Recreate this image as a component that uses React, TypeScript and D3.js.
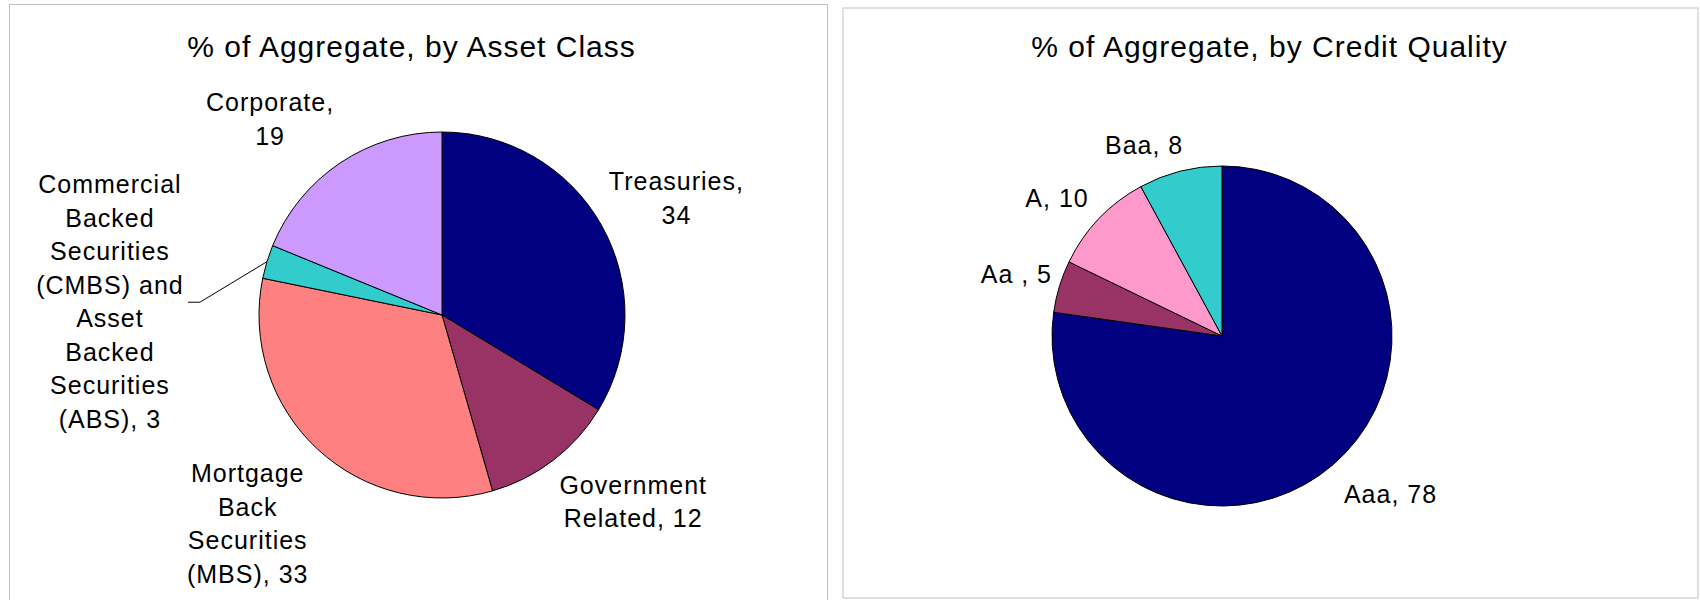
import React from "react";
import * as d3 from "d3";

// ---- Data ----
const assetClasses = [
  "Treasuries",
  "Government Related",
  "Mortgage Back Securities (MBS)",
  "Commercial Backed Securities (CMBS) and Asset Backed Securities (ABS)",
  "Corporate",
];
const assetValues = [34, 12, 33, 3, 19];
// label wrapping as in the picture ({v} = value)
const assetLabelLines = [
  ["Treasuries,", "{v}"],
  ["Government", "Related, {v}"],
  ["Mortgage", "Back", "Securities", "(MBS), {v}"],
  ["Commercial", "Backed", "Securities", "(CMBS) and", "Asset", "Backed", "Securities", "(ABS), {v}"],
  ["Corporate,", "{v}"],
];
const assetColors = ["#000080", "#993366", "#FF8080", "#33CCCC", "#CC99FF"];

const creditGrades = ["Aaa", "Aa ", "A", "Baa"];
const creditValues = [78, 5, 10, 8];
const creditLabelLines = [["Aaa, {v}"], ["Aa , {v}"], ["A, {v}"], ["Baa, {v}"]];
const creditColors = ["#000080", "#993366", "#FF99CC", "#33CCCC"];

const titles = ["% of Aggregate, by Asset Class", "% of Aggregate, by Credit Quality"];

// ---- Layout ----
const FONT = "'Liberation Sans', Arial, Helvetica, sans-serif";
const LINE_H = 33.5;

type PieSpec = {
  names: string[];
  values: number[];
  colors: string[];
  lines: string[][];
  cx: number;
  cy: number;
  r: number;
  labelOffsets: [number, number][];
  leader: boolean[];
};

function Pie({ spec }: { spec: PieSpec }) {
  const pie = d3
    .pie<number>()
    .sort(null)
    .startAngle(0)
    .endAngle(2 * Math.PI)
    .value((d) => d);
  const arcs = pie(spec.values);
  const arc = d3.arc<d3.PieArcDatum<number>>().innerRadius(0).outerRadius(spec.r);
  return (
    <g>
      <g transform={`translate(${spec.cx},${spec.cy})`}>
        {arcs.map((a, i) => (
          <path
            key={spec.names[i]}
            d={arc(a) || ""}
            fill={spec.colors[i]}
            stroke="#000"
            strokeWidth={1}
            strokeLinejoin="round"
          />
        ))}
      </g>
      {arcs.map((a, i) => {
        const mid = (a.startAngle + a.endAngle) / 2;
        const ox = spec.cx + spec.r * Math.sin(mid);
        const oy = spec.cy - spec.r * Math.cos(mid);
        const [dx, dy] = spec.labelOffsets[i];
        const lx = ox + dx;
        const ly = oy + dy;
        const lines = spec.lines[i].map((s) => s.replace("{v}", String(spec.values[i])));
        const n = lines.length;
        return (
          <g key={"lab" + i}>
            {spec.leader[i] && (
              <polyline
                points={`${ox},${oy} ${lx + 90},${ly + 0.5} ${lx + 78},${ly + 0.5}`}
                fill="none"
                stroke="#000"
                strokeWidth={1}
              />
            )}
            <text
              x={lx}
              textAnchor="middle"
              fontFamily={FONT}
              fontSize={25}
              letterSpacing={1}
              fill="#000"
            >
              {lines.map((s, j) => (
                <tspan key={j} x={lx} y={ly + 9 + (j - (n - 1) / 2) * LINE_H}>
                  {s}
                </tspan>
              ))}
            </text>
          </g>
        );
      })}
    </g>
  );
}

export default function App() {
  const left: PieSpec = {
    names: assetClasses,
    values: assetValues,
    colors: assetColors,
    lines: assetLabelLines,
    cx: 442,
    cy: 315,
    r: 183,
    labelOffsets: [
      [75, -27],
      [80, 41],
      [-70, 74],
      [-157, 40],
      [-70, -44],
    ],
    leader: [false, false, false, true, false],
  };
  const right: PieSpec = {
    names: creditGrades,
    values: creditValues,
    colors: creditColors,
    lines: creditLabelLines,
    cx: 1222,
    cy: 336,
    r: 170,
    labelOffsets: [
      [57, 30],
      [-43, -12],
      [-42, -21],
      [-36, -26],
    ],
    leader: [false, false, false, false],
  };
  return (
    <svg
      width={1700}
      height={600}
      style={{ position: "absolute", left: 0, top: 0, display: "block", background: "#fff" }}
    >
      <rect x={0} y={0} width={1700} height={600} fill="#fff" />
      <rect x={9.5} y={4.5} width={818} height={620} fill="#fff" stroke="#c0c0c0" strokeWidth={1} />
      <rect x={843} y={8} width={855} height={590} fill="#fff" stroke="#d6d6d6" strokeWidth={1.5} />
      <text
        x={411.5}
        y={57}
        textAnchor="middle"
        fontFamily={FONT}
        fontSize={30}
        letterSpacing={1}
        fill="#000"
      >
        {titles[0]}
      </text>
      <text
        x={1269.5}
        y={57}
        textAnchor="middle"
        fontFamily={FONT}
        fontSize={30}
        letterSpacing={1}
        fill="#000"
      >
        {titles[1]}
      </text>
      <Pie spec={left} />
      <Pie spec={right} />
    </svg>
  );
}
